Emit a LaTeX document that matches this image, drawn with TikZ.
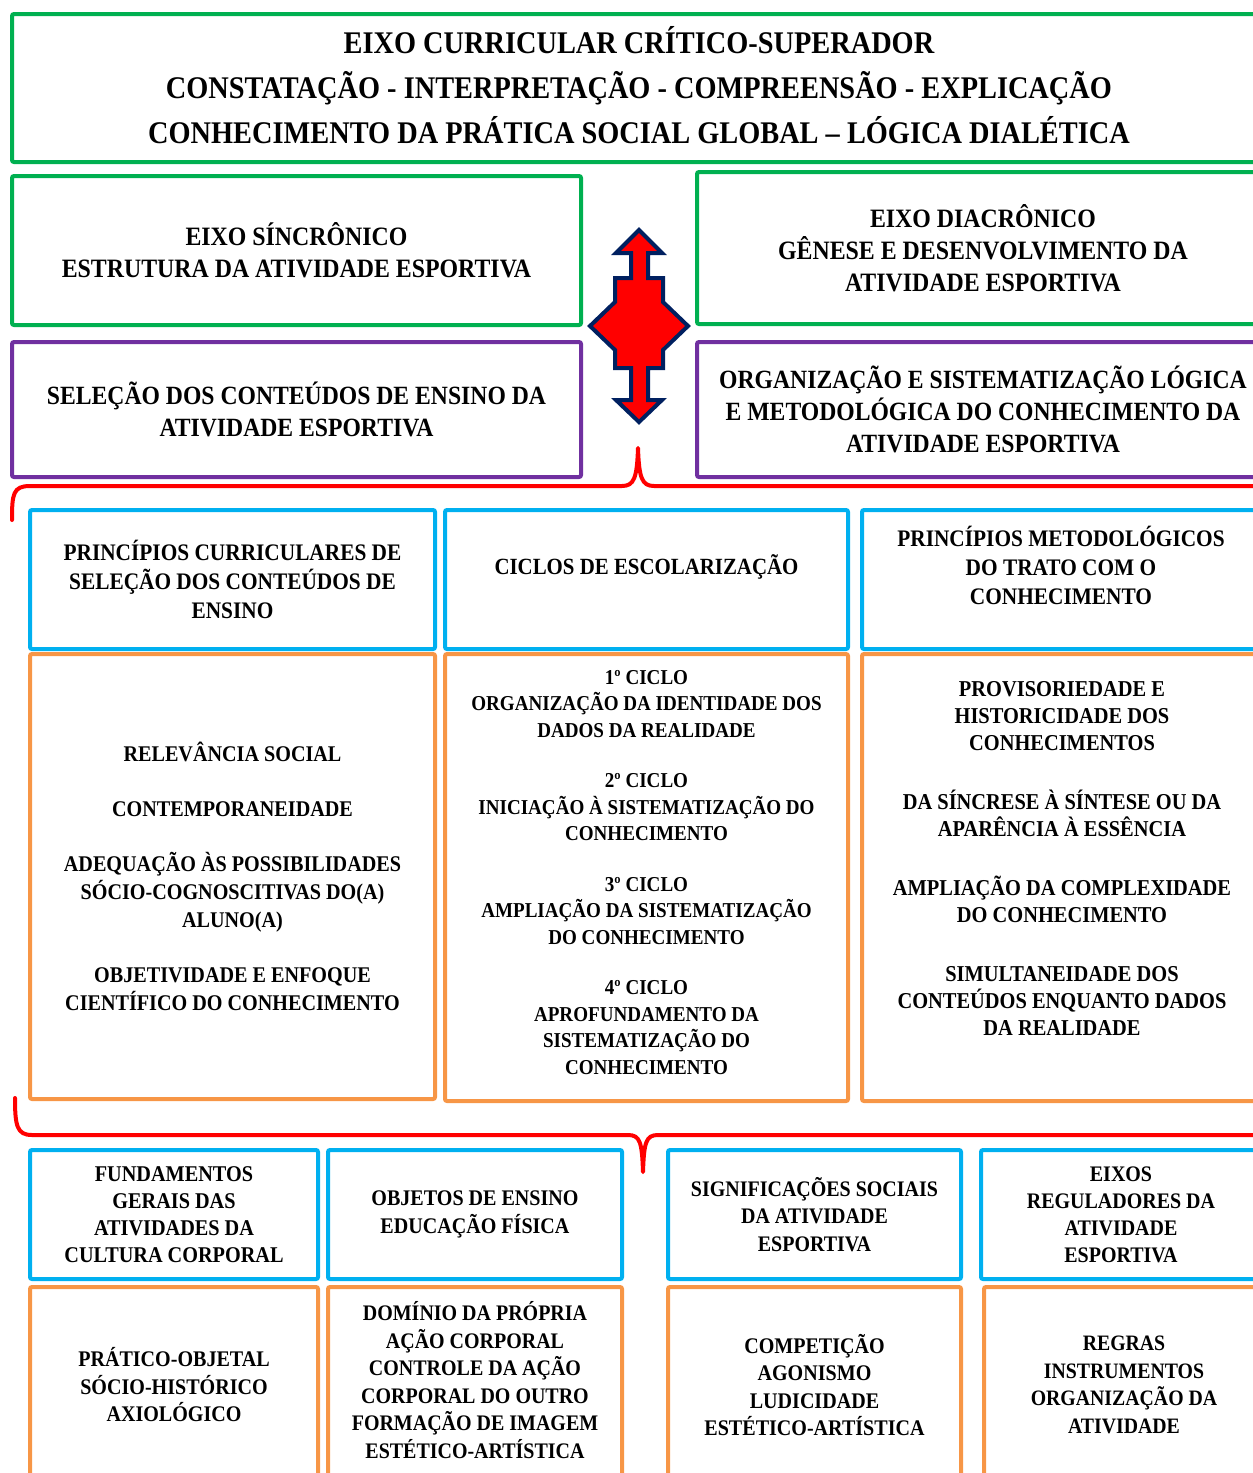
\documentclass[tikz,border=0pt]{standalone}
\usepackage{fontspec}
\setmainfont[FakeStretch=0.9]{Liberation Serif}
\usetikzlibrary{positioning}

\definecolor{verdeeixo}{HTML}{00B050}
\definecolor{roxoeixo}{HTML}{7030A0}
\definecolor{azulcaixa}{HTML}{00B0F0}
\definecolor{laranjacaixa}{HTML}{F79646}
\definecolor{azulseta}{HTML}{002060}

\tikzset{
  caixa/.style={draw, line width=4pt, rounded corners=2pt, align=center,
    inner sep=0pt, anchor=north west},
  verde/.style={caixa, draw=verdeeixo},
  roxo/.style={caixa, draw=roxoeixo, font=\bfseries\fontsize{26.3}{32}\selectfont},
  azul/.style={caixa, draw=azulcaixa},
  laranja/.style={caixa, draw=laranjacaixa},
  chave/.style={draw=red, line width=4pt, line join=round, line cap=round},
}

\begin{document}
\begin{tikzpicture}[x=1pt,y=-1pt]

    \useasboundingbox (0,0) rectangle (1253,1473);
    \clip (0,0) rectangle (1253,1473);

    % eixo curricular
    \node[verde, minimum width=1254, minimum height=148,
      font=\bfseries\fontsize{31.5}{45}\selectfont] (titulo) at (10,12)
      {EIXO CURRICULAR CRÍTICO-SUPERADOR\\
       CONSTATAÇÃO - INTERPRETAÇÃO - COMPREENSÃO - EXPLICAÇÃO\\
       CONHECIMENTO DA PRÁTICA SOCIAL GLOBAL -- LÓGICA DIALÉTICA\\[-39pt]\mbox{}};

    \node[verde, minimum width=569, minimum height=149,
      font=\bfseries\fontsize{26.5}{32}\selectfont] (sincronico) at (10,174)
      {EIXO SÍNCRÔNICO\\ESTRUTURA DA ATIVIDADE ESPORTIVA};
    \node[verde, minimum width=572, minimum height=152,
      font=\bfseries\fontsize{26.5}{32}\selectfont] (diacronico) at (695,170)
      {EIXO DIACRÔNICO\\GÊNESE E DESENVOLVIMENTO DA\\ATIVIDADE ESPORTIVA};

    \node[roxo, minimum width=569, minimum height=135] (selecao) at (10,340)
      {SELEÇÃO DOS CONTEÚDOS DE ENSINO DA\\ATIVIDADE ESPORTIVA};
    \node[roxo, minimum width=572, minimum height=135] (organizacao) at (695,340)
      {ORGANIZAÇÃO E SISTEMATIZAÇÃO LÓGICA\\E METODOLÓGICA DO CONHECIMENTO DA\\ATIVIDADE ESPORTIVA};

    % seta de quatro pontas
    \draw[fill=red, draw=azulseta, line width=4pt, line join=miter]
      (639,230) -- (662,253) -- (648,253) -- (648,278) -- (663,278) -- (663,302)
      -- (688,326) -- (663,350) -- (663,368) -- (648,368) -- (648,400) -- (662,400)
      -- (639,422) -- (616,400) -- (631,400) -- (631,368) -- (615,368) -- (615,350)
      -- (590,326) -- (615,302) -- (615,278) -- (631,278) -- (631,253) -- (616,253)
      -- cycle;

    % chaves
    \draw[chave] (12,520) .. controls (12,494) and (13,486) .. (30,486)
      -- (622,486) .. controls (634,486) and (637,478) .. (638,448)
      .. controls (639,478) and (642,486) .. (654,486) -- (1260,486);
    \draw[chave] (15,1098) .. controls (15,1126) and (17,1135) .. (32,1135)
      -- (628,1135) .. controls (640,1135) and (642,1142) .. (643,1172)
      .. controls (644,1142) and (646,1135) .. (658,1135) -- (1260,1135);

    % principios e ciclos
    \node[azul, minimum width=405, minimum height=139,
      font=\bfseries\fontsize{23.7}{29}\selectfont] (principioscur) at (28,508)
      {PRINCÍPIOS CURRICULARES DE\\SELEÇÃO DOS CONTEÚDOS DE\\ENSINO};
    \node[azul, minimum width=403, minimum height=139,
      font=\bfseries\fontsize{23.2}{29}\selectfont] (ciclos) at (443,508)
      {CICLOS DE ESCOLARIZAÇÃO\\\mbox{}};
    \node[azul, minimum width=398, minimum height=139,
      font=\bfseries\fontsize{23.7}{29}\selectfont] (principiosmet) at (860,508)
      {PRINCÍPIOS METODOLÓGICOS\\DO TRATO COM O\\CONHECIMENTO\\\mbox{}};

    \node[laranja, minimum width=405, minimum height=445,
      font=\bfseries\fontsize{22.4}{28}\selectfont] (relevancia) at (28,652)
      {RELEVÂNCIA SOCIAL\\[27pt]
       CONTEMPORANEIDADE\\[27pt]
       ADEQUAÇÃO ÀS POSSIBILIDADES\\SÓCIO-COGNOSCITIVAS DO(A)\\ALUNO(A)\\[27pt]
       OBJETIVIDADE E ENFOQUE\\CIENTÍFICO DO CONHECIMENTO};
    \node[laranja, minimum width=403, minimum height=447,
      font=\bfseries\fontsize{21.2}{26.5}\selectfont] (cicloslista) at (443,652)
      {1º CICLO\\ORGANIZAÇÃO DA IDENTIDADE DOS\\DADOS DA REALIDADE\\[24pt]
       2º CICLO\\INICIAÇÃO À SISTEMATIZAÇÃO DO\\CONHECIMENTO\\[24pt]
       3º CICLO\\AMPLIAÇÃO DA SISTEMATIZAÇÃO\\DO CONHECIMENTO\\[24pt]
       4º CICLO\\APROFUNDAMENTO DA\\SISTEMATIZAÇÃO DO\\CONHECIMENTO\\[-16pt]\mbox{}};
    \node[laranja, minimum width=400, minimum height=447,
      font=\bfseries\fontsize{22.7}{27}\selectfont] (provisoriedade) at (860,652)
      {PROVISORIEDADE E\\HISTORICIDADE DOS\\CONHECIMENTOS\\[32pt]
       DA SÍNCRESE À SÍNTESE OU DA\\APARÊNCIA À ESSÊNCIA\\[32pt]
       AMPLIAÇÃO DA COMPLEXIDADE\\DO CONHECIMENTO\\[32pt]
       SIMULTANEIDADE DOS\\CONTEÚDOS ENQUANTO DADOS\\DA REALIDADE\\[12pt]\mbox{}};

    % fundamentos, objetos, significacoes e eixos
    \node[azul, minimum width=288, minimum height=129,
      font=\bfseries\fontsize{22.5}{27}\selectfont] (fundamentos) at (28,1148)
      {FUNDAMENTOS\\GERAIS DAS\\ATIVIDADES DA\\CULTURA CORPORAL};
    \node[azul, minimum width=294, minimum height=129,
      font=\bfseries\fontsize{22.3}{28}\selectfont] (objetos) at (326,1148)
      {OBJETOS DE ENSINO\\EDUCAÇÃO FÍSICA};
    \node[azul, minimum width=293, minimum height=129,
      font=\bfseries\fontsize{22.2}{27.5}\selectfont] (significacoes) at (666,1148)
      {SIGNIFICAÇÕES SOCIAIS\\DA ATIVIDADE\\ESPORTIVA};
    \node[azul, minimum width=280, minimum height=129,
      font=\bfseries\fontsize{22.2}{27}\selectfont] (reguladores) at (979,1148)
      {EIXOS\\REGULADORES DA\\ATIVIDADE\\ESPORTIVA};

    \node[laranja, minimum width=288, minimum height=196,
      font=\bfseries\fontsize{22.3}{27.5}\selectfont] (praticoobjetal) at (28,1285)
      {PRÁTICO-OBJETAL\\SÓCIO-HISTÓRICO\\AXIOLÓGICO};
    \node[laranja, minimum width=294, minimum height=196,
      font=\bfseries\fontsize{22.2}{27.5}\selectfont] (dominio) at (326,1285)
      {DOMÍNIO DA PRÓPRIA\\AÇÃO CORPORAL\\CONTROLE DA AÇÃO\\CORPORAL DO OUTRO\\FORMAÇÃO DE IMAGEM\\ESTÉTICO-ARTÍSTICA\\[-17pt]\mbox{}};
    \node[laranja, minimum width=293, minimum height=196,
      font=\bfseries\fontsize{22.3}{27.5}\selectfont] (competicao) at (666,1285)
      {COMPETIÇÃO\\AGONISMO\\LUDICIDADE\\ESTÉTICO-ARTÍSTICA};
    \node[laranja, minimum width=280, minimum height=196,
      font=\bfseries\fontsize{22}{27.5}\selectfont] (regras) at (982,1285)
      {REGRAS\\INSTRUMENTOS\\ORGANIZAÇÃO DA\\ATIVIDADE};

\end{tikzpicture}
\end{document}
